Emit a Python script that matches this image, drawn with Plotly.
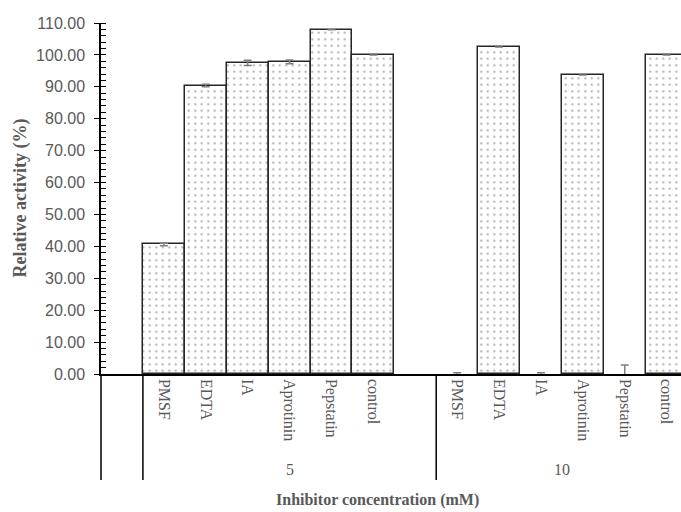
import plotly.graph_objects as go

# ---- data ----
groups = ["5", "10"]
inhibitors = ["PMSF", "EDTA", "IA", "Aprotinin", "Pepstatin", "control"]
values_5 = [40.6, 90.4, 97.5, 97.8, 107.9, 100.0]
errors_5 = [0.4, 0.4, 0.8, 0.6, 0.0, 0.0]
values_10 = [0.0, 102.5, 0.0, 93.7, 0.0, 100.0]
errors_10 = [0.4, 0.0, 0.4, 0.0, 2.8, 0.0]

values = [values_5, values_10]
errors = [errors_5, errors_10]

# slot layout: one blank slot, group 5 with a trailing blank slot, then group 10
group_slots = [len(inhibitors) + 1, len(inhibitors)]
start = 1
xs, ys, es, names = [], [], [], []
group_spans = []
for g, grp in enumerate(groups):
    for i, name in enumerate(inhibitors):
        xs.append(start + i + 0.5)
        ys.append(values[g][i])
        es.append(errors[g][i])
        names.append(name)
    group_spans.append((start, start + group_slots[g]))
    start += group_slots[g]

grey = "#595959"
fig = go.Figure()
fig.add_trace(go.Bar(
    x=xs, y=ys, width=1,
    marker=dict(color="white",
                line=dict(color="#262626", width=[1.5 if v > 0 else 0 for v in ys]),
                pattern=dict(shape=".", fgcolor="#606060", bgcolor="white",
                             size=6.5, solidity=0.1)),
    error_y=dict(type="data", array=es, color="#7f7f7f", thickness=1.5, width=4),
    showlegend=False,
))

W, H = 681, 512
ml, mt, mb, mr = 101, 23, 138, 0
plot_h = H - mt - mb
plot_w = W - ml - mr
slot_px = 41.9
x_max = plot_w / slot_px

fig.update_layout(
    width=W, height=H,
    margin=dict(l=ml, r=mr, t=mt, b=mb),
    plot_bgcolor="white", paper_bgcolor="white",
    bargap=0,
    xaxis=dict(range=[0, x_max], tickvals=xs, ticktext=names,
               tickangle=90, ticks="", showline=True, linecolor="black",
               linewidth=1.5, showgrid=False, zeroline=False,
               tickfont=dict(family="Liberation Serif", size=16, color=grey)),
    yaxis=dict(range=[0, 110], dtick=10, tickformat=".2f", showline=True,
               linecolor="black", linewidth=1.5, ticks="outside", ticklen=5,
               tickcolor="black", tickwidth=1.2, showgrid=False, zeroline=False,
               ticklabelstandoff=6,
               minor=dict(dtick=2, ticks="inside", ticklen=5, tickcolor="black",
                          tickwidth=1, showgrid=False),
               tickfont=dict(family="Liberation Sans", size=16, color=grey)),
)

def py(px):
    """pixel row -> paper y"""
    return -(px - (H - mb)) / plot_h

bounds = sorted({0} | {s for sp in group_spans for s in sp})
for b in bounds:
    xp = b / x_max
    fig.add_shape(type="line", xref="paper", yref="paper", x0=xp, x1=xp,
                  y0=0, y1=py(480), line=dict(color="black", width=1.5))

for grp, (a, b) in zip(groups, group_spans):
    fig.add_annotation(x=(a + b) / 2, y=py(470), xref="x", yref="paper",
                       xanchor="center", yanchor="middle", text=grp,
                       showarrow=False,
                       font=dict(family="Liberation Serif", size=16, color=grey))

fig.add_annotation(x=(377 - ml) / plot_w, y=py(500), xref="paper", yref="paper",
                   xanchor="center", yanchor="middle", showarrow=False,
                   text="<b>Inhibitor concentration (mM)</b>",
                   font=dict(family="Liberation Serif", size=16, color=grey))
fig.add_annotation(x=(20 - ml) / plot_w, y=0.5, xref="paper", yref="paper",
                   xanchor="center", yanchor="middle",
                   showarrow=False, textangle=-90,
                   text="<b>Relative activity (%)</b>",
                   font=dict(family="Liberation Serif", size=18, color=grey))

fig.write_html("out.html")
